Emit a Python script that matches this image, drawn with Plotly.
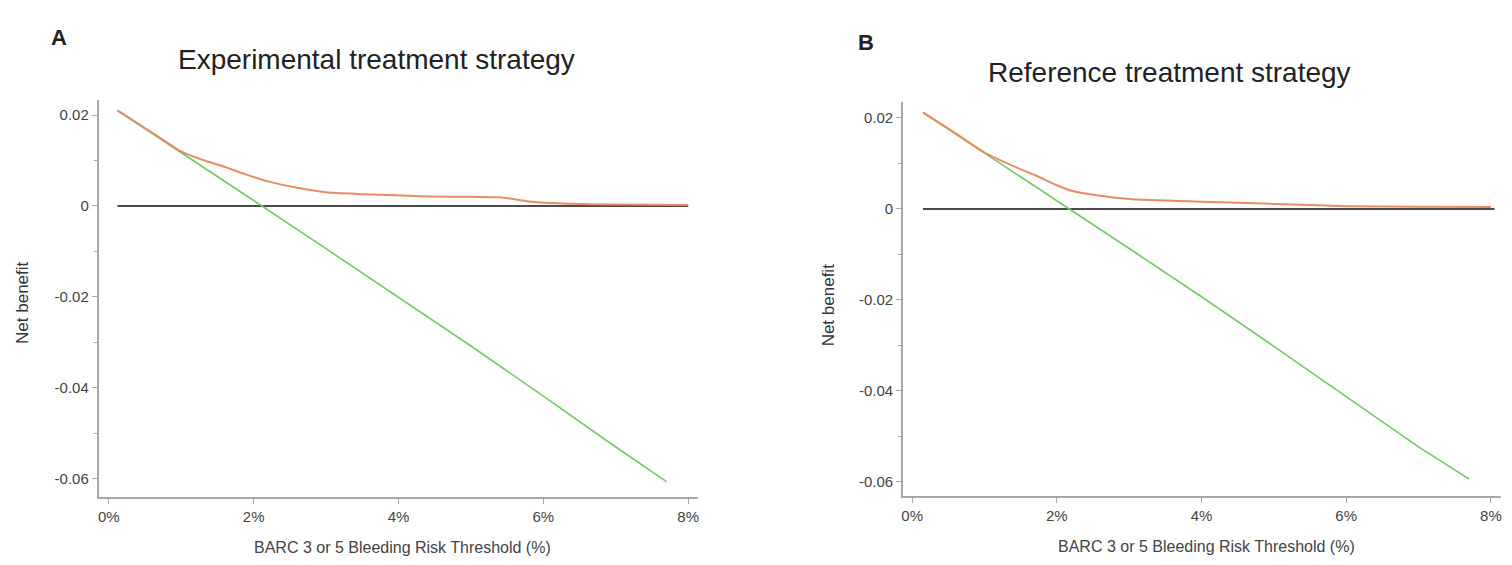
import plotly.graph_objects as go

# ---- data ----
x_tick_vals = [0, 2, 4, 6, 8]
x_tick_text = ["0%", "2%", "4%", "6%", "8%"]
y_tick_vals = [0.02, 0, -0.02, -0.04, -0.06]
y_tick_text = ["0.02", "0", "-0.02", "-0.04", "-0.06"]
y_minor_vals = [0.01, -0.01, -0.03, -0.05]

# Panel A: Experimental treatment strategy
a_model_x = [0.12, 0.6, 1.0, 1.3, 1.6, 1.9, 2.2, 2.6, 3.0, 3.5, 4.4, 5.0, 5.4, 5.8, 6.2, 7.0, 8.0]
a_model_y = [0.0210, 0.0161, 0.0120, 0.0101, 0.0086, 0.0069, 0.0054, 0.0040, 0.0030, 0.0026,
             0.0021, 0.0020, 0.0019, 0.0010, 0.0006, 0.0003, 0.0002]
a_all_x = [0.12, 1, 2, 3, 4, 5, 6, 7, 7.7]
a_all_y = [0.0210, 0.0118, 0.0012, -0.0094, -0.0200, -0.0308, -0.0418, -0.0530, -0.0606]
a_none_x = [0.12, 8.0]
a_none_y = [0, 0]

# Panel B: Reference treatment strategy
b_model_x = [0.15, 0.6, 1.0, 1.4, 1.7, 2.0, 2.2, 2.6, 3.0, 4.0, 5.0, 6.0, 7.0, 8.0]
b_model_y = [0.0212, 0.0166, 0.0124, 0.0094, 0.0074, 0.0052, 0.0040, 0.0029, 0.0022, 0.0016,
             0.0011, 0.0006, 0.0005, 0.0004]
b_all_x = [0.15, 1, 2, 3, 4, 5, 6, 7, 7.7]
b_all_y = [0.0212, 0.0122, 0.0018, -0.0087, -0.0193, -0.0302, -0.0412, -0.0523, -0.0594]
b_none_x = [0.15, 8.05]
b_none_y = [0, 0]

ORANGE = "#EA8A64"
GREEN = "#74C866"
DARK = "#4a4a4a"
AXIS = "#a8a8a8"
FONT = "Liberation Sans, Arial, sans-serif"

fig = go.Figure()

def add_panel(mx, my, ax, ay, nx, ny, xa, ya):
    fig.add_trace(go.Scatter(x=nx, y=ny, mode="lines", line=dict(color=DARK, width=2),
                             xaxis=xa, yaxis=ya, showlegend=False))
    fig.add_trace(go.Scatter(x=ax, y=ay, mode="lines", line=dict(color=GREEN, width=1.6),
                             xaxis=xa, yaxis=ya, showlegend=False))
    fig.add_trace(go.Scatter(x=mx, y=my, mode="lines",
                             line=dict(color=ORANGE, width=2, shape="spline", smoothing=0.6),
                             xaxis=xa, yaxis=ya, showlegend=False))

add_panel(a_model_x, a_model_y, a_all_x, a_all_y, a_none_x, a_none_y, "x", "y")
add_panel(b_model_x, b_model_y, b_all_x, b_all_y, b_none_x, b_none_y, "x2", "y2")

W, H = 1512, 565

def xd(a, b):
    return [a / W, b / W]

def yd(top, bottom):
    return [1 - bottom / H, 1 - top / H]

common_x = dict(showline=True, linecolor=AXIS, linewidth=2, ticks="outside", tickcolor=AXIS,
                ticklen=5, tickvals=x_tick_vals, ticktext=x_tick_text, showgrid=False,
                zeroline=False, tickfont=dict(family=FONT, size=15, color="#444"))
common_y = dict(showline=True, linecolor=AXIS, linewidth=2, ticks="outside", tickcolor=AXIS,
                ticklen=5, tickvals=y_tick_vals, ticktext=y_tick_text, showgrid=False,
                zeroline=False, tickfont=dict(family=FONT, size=15, color="#444"),
                minor=dict(tickvals=y_minor_vals, ticks="outside", ticklen=3, tickcolor=AXIS))

fig.update_layout(
    width=W, height=H,
    margin=dict(l=0, r=0, t=0, b=0),
    paper_bgcolor="white", plot_bgcolor="white",
    xaxis=dict(domain=xd(97, 697), range=[-0.138, 8.13], anchor="y", **common_x),
    yaxis=dict(domain=yd(100, 497), range=[-0.064, 0.0233], anchor="x", **common_y),
    xaxis2=dict(domain=xd(903, 1502), range=[-0.124, 8.14], anchor="y2", **common_x),
    yaxis2=dict(domain=yd(102, 496), range=[-0.0631, 0.0235], anchor="x2", **common_y),
)

def ann(text, x, y, size, bold=False, angle=0, color="#222"):
    fig.add_annotation(text=("<b>%s</b>" % text) if bold else text, x=x / W, y=1 - y / H,
                       xref="paper", yref="paper", showarrow=False, textangle=angle,
                       xanchor="center", yanchor="middle",
                       font=dict(family=FONT, size=size, color=color))

ann("A", 57, 38, 22, bold=True)
ann("B", 866, 42, 22, bold=True)
ann("Experimental treatment strategy", 375, 60, 28)
ann("Reference treatment strategy", 1170, 72, 28)
ann("BARC 3 or 5 Bleeding Risk Threshold (%)", 401, 547, 16, color="#444")
ann("BARC 3 or 5 Bleeding Risk Threshold (%)", 1207, 546, 16, color="#444")
ann("Net benefit", 20, 303, 17, angle=-90, color="#333")
ann("Net benefit", 828, 305, 17, angle=-90, color="#333")

fig.write_html("out.html")
